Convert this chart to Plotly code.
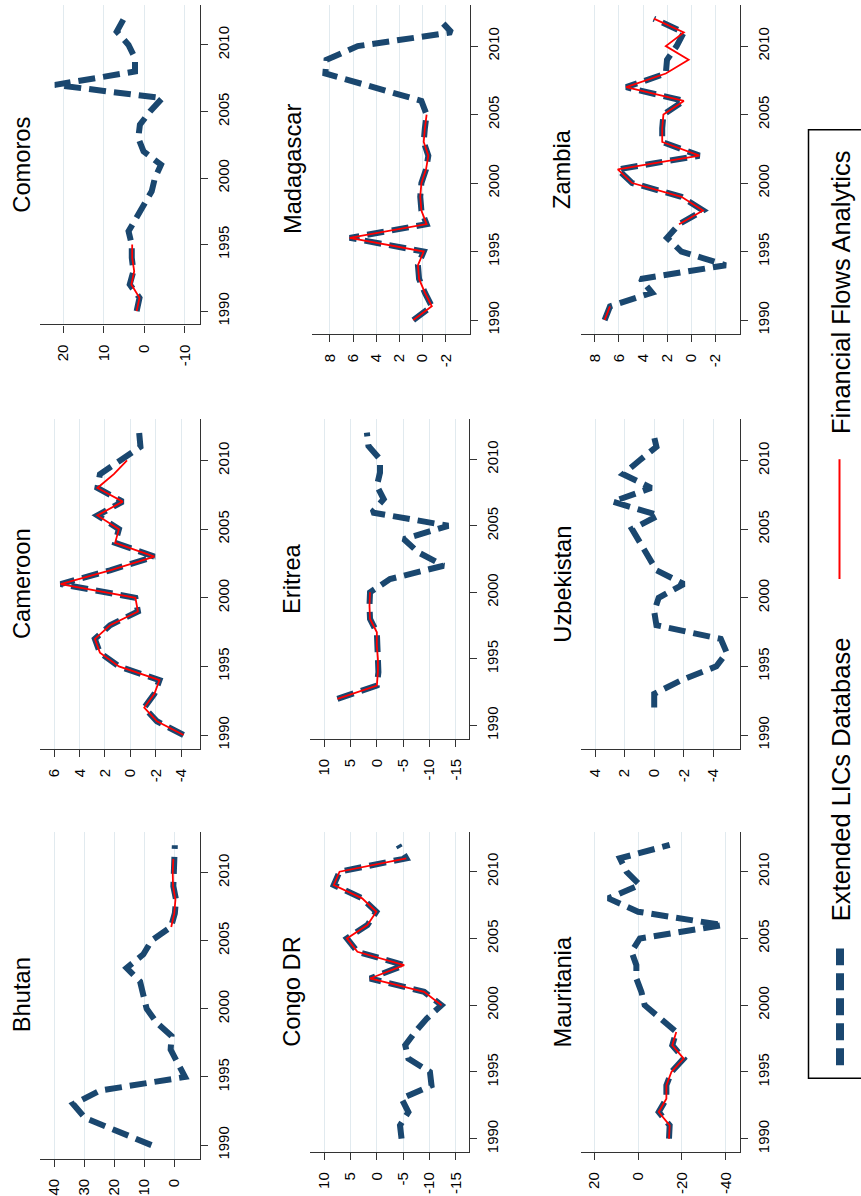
import plotly.graph_objects as go

W, H = 861, 1196
NAVY = "#1a476f"
RED = "#ff0000"
FONT = "Liberation Sans, Arial, Helvetica, sans-serif"

years = list(range(1990, 2013))

# Extended LICs Database (dashed) and Financial Flows Analytics (red), 1990-2012
comoros_ext = [1.9, 1.2, 3.6, 2.7, 3.1, 3.1, 3.9, 1.9, -0.2, -1.8, -2.6, -4.1,
               0.2, 1.5, 1.1, -1.4, -4.4, 22.0, 2.3, 2.3, 3.9, 6.8, 5.0]
comoros_ffa = [1.9, 1.2, 3.2, 2.5, 3.0, 3.0] + [None] * 17

cameroon_ext = [-4.2, -2.1, -1.1, -1.9, -2.3, 0.9, 2.4, 2.8, 1.6, -0.6, -0.4, 5.5,
                1.6, -1.9, 1.2, 0.9, 2.6, 0.6, 2.6, 2.4, 0.8, -0.8, -0.7]
cameroon_ffa = [-4.2, -2.1, -1.1, -1.9, -2.3, 0.9, 2.4, 2.8, 1.6, -0.6, -0.4, 5.5,
                1.6, -1.9, 1.2, 0.9, 2.6, 0.6, 2.6, 1.3, 0.26, None, None]

bhutan_ext = [7.6, 18.7, 29.8, 33.7, 24.8, -3.6, -1.3, 1.2, 0.9, 5.9, 9.2, 10.1,
              11.4, 15.9, 10.3, 7.6, 1.1, -0.2, -0.6, 0.3, 0.3, 0.1, -0.2]
bhutan_ffa = [None] * 16 + [1.0, 0.0, -0.4, 0.4, 0.5, 0.3, None]

madagascar_ext = [0.8, -0.8, -0.2, 0.3, 0.4, -0.1, 6.3, -0.35, 0.1, 0.2, 0.1, -0.3,
                  -0.5, -0.1, -0.2, -0.35, 0.1, 4.2, 8.4, 8.3, 5.6, -2.5, -1.4]
madagascar_ffa = [0.8, -0.8, -0.2, 0.3, 0.4, -0.1, 6.3, -0.35, 0.1, 0.2, 0.1, -0.3,
                  -0.5, -0.1, -0.2, -0.35] + [None] * 7

eritrea_ext = [None, None, 7.5, 0.0, -0.3, -0.3, -0.1, 0.0, 1.3, 1.4, 1.3, -2.5,
               -12.7, -7.9, -5.1, -13.6, 0.9, -1.3, 0.0, -0.6, -0.6, 1.6, 1.9]
eritrea_ffa = [None, None, 7.5, 0.0, -0.2, -0.2, 0.0, 0.0, 1.3, 1.4, 1.3] + [None] * 12

congo_ext = [-4.7, -4.4, -6.0, -4.7, -10.4, -10.1, -6.0, -5.4, -7.3, -9.5, -12.3, -9.0,
             1.3, -5.2, 3.7, 5.7, 1.8, 0.1, 2.8, 8.2, 7.1, -5.6, -4.1]
congo_ffa = [None] * 10 + [-12.3, -9.0, 1.3, -5.2, 3.7, 5.7, 1.8, 0.1, 2.8, 8.2,
                           7.1, -5.6, None]

zambia_ext = [7.2, 6.75, 3.25, 4.2, -2.9, 0.8, 2.0, 1.0, -1.0, 0.8, 4.9, 6.1,
              -0.7, 2.4, 2.4, 2.3, 0.6, 5.4, 2.1, 2.0, 1.2, 0.6, 3.1]
zambia_ffa = [7.2, 6.75, None, None, None, None, None, 1.0, -1.0, 0.8, 4.9, 6.1,
              -0.7, 2.4, 2.4, 2.3, 0.6, 5.4, 2.1, 0.2, 2.1, 0.6, 3.1]

uzbekistan_ext = [None, None, 0.0, 0.0, -1.85, -4.2, -4.9, -4.5, -0.15, 0.0, -0.3, -2.0,
                  -0.15, 0.4, 1.0, 1.5, -0.3, 2.8, 0.2, 2.1, 1.0, -0.15, 0.07]
uzbekistan_ffa = [None] * 23

mauritania_ext = [-14.1, -14.4, -9.4, -12.9, -12.9, -15.2, -20.8, -15.6, -17.4, -9.8,
                  -3.0, -1.5, 0.8, 0.8, 3.0, -0.8, -38.6, 0.0, 13.6, -0.8, 5.3, 8.3, -14.4]
mauritania_ffa = [-14.1, -14.4, -9.4, -12.9, -12.9, -15.2, -20.8, -15.6, -17.4] + [None] * 14

# value-axis ticks per country
comoros_ticks = [20, 10, 0, -10]
cameroon_ticks = [6, 4, 2, 0, -2, -4]
bhutan_ticks = [40, 30, 20, 10, 0]
madagascar_ticks = [8, 6, 4, 2, 0, -2]
eritrea_ticks = [10, 5, 0, -5, -10, -15]
congo_ticks = [10, 5, 0, -5, -10, -15]
zambia_ticks = [8, 6, 4, 2, 0, -2]
uzbekistan_ticks = [4, 2, 0, -2, -4]
mauritania_ticks = [20, 0, -20, -40]
year_ticks = [1990, 1995, 2000, 2005, 2010]

legend_labels = ["Extended LICs Database", "Financial Flows Analytics"]

# panel boxes in pixels: (left, right, top, bottom); value range shown left -> right
panels = [
    ("Comoros", comoros_ext, comoros_ffa, comoros_ticks, (40, 200, 5, 325), (25.7, -13.7)),
    ("Cameroon", cameroon_ext, cameroon_ffa, cameroon_ticks, (40, 200, 420, 750), (7.13, -5.5)),
    ("Bhutan", bhutan_ext, bhutan_ffa, bhutan_ticks, (40, 200, 833, 1160.7), (44.8, -8.6)),
    ("Madagascar", madagascar_ext, madagascar_ffa, madagascar_ticks, (311.7, 470, 5, 334.3), (9.58, -4.10)),
    ("Eritrea", eritrea_ext, eritrea_ffa, eritrea_ticks, (310, 469.3, 420, 740), (12.72, -17.59)),
    ("Congo DR", congo_ext, congo_ffa, congo_ticks, (310, 469.3, 833, 1154), (12.72, -17.59)),
    ("Zambia", zambia_ext, zambia_ffa, zambia_ticks, (580.7, 740, 5, 334.3), (9.19, -4.08)),
    ("Uzbekistan", uzbekistan_ext, uzbekistan_ffa, uzbekistan_ticks, (580.7, 740, 420, 750), (4.97, -5.80)),
    ("Mauritania", mauritania_ext, mauritania_ffa, mauritania_ticks, (580.7, 740, 833, 1154), (26.2, -46.5)),
]

AXIS_COLOR = "#333333"
GRID_COLOR = "#e1eaef"
TICK_FONT = dict(family=FONT, size=15, color="#000000")

fig = go.Figure()
layout_axes = {}
for i, (name, ext, ffa, ticks, box, vrange) in enumerate(panels, start=1):
    sfx = "" if i == 1 else str(i)
    xa, ya = "x" + sfx, "y" + sfx
    fig.add_trace(go.Scatter(
        x=ext, y=years, xaxis=xa, yaxis=ya, mode="lines", connectgaps=False,
        line=dict(color=NAVY, width=6, dash="17px,8px"),
        name=legend_labels[0], showlegend=False, hoverinfo="skip"))
    fig.add_trace(go.Scatter(
        x=ffa, y=years, xaxis=xa, yaxis=ya, mode="lines", connectgaps=False,
        line=dict(color=RED, width=1.8),
        name=legend_labels[1], showlegend=False, hoverinfo="skip"))
    l, r, t, b = box
    layout_axes["xaxis" + sfx] = dict(
        domain=[l / W, r / W], range=list(vrange), anchor=ya,
        tickvals=ticks, ticktext=[str(v) for v in ticks], tickangle=-90,
        showline=True, linecolor=AXIS_COLOR, linewidth=1.3,
        ticks="outside", ticklen=7, tickwidth=1.3, tickcolor=AXIS_COLOR,
        ticklabelstandoff=6,
        showgrid=True, gridcolor=GRID_COLOR, gridwidth=1.3, zeroline=False,
        tickfont=TICK_FONT, fixedrange=True)
    layout_axes["yaxis" + sfx] = dict(
        domain=[1 - b / H, 1 - t / H], range=[1989, 2013], anchor=xa, side="right",
        tickvals=year_ticks, ticktext=[str(v) for v in year_ticks], tickangle=-90,
        showline=True, linecolor=AXIS_COLOR, linewidth=1.3,
        ticks="outside", ticklen=7, tickwidth=1.3, tickcolor=AXIS_COLOR,
        ticklabelstandoff=3,
        showgrid=False, zeroline=False, tickfont=TICK_FONT, fixedrange=True)
    fig.add_annotation(
        text=name, xref="paper", yref="paper", x=(l - 18) / W, y=1 - (t + b) / 2 / H,
        xanchor="center", yanchor="middle", textangle=-90, showarrow=False,
        font=dict(family=FONT, size=23.7, color="#000000"))

# legend frame, keys and labels
shapes = [
    dict(type="rect", xref="paper", yref="paper", x0=808.5 / W, x1=880 / W,
         y0=1 - 1080 / H, y1=1 - 130 / H, line=dict(color="#000000", width=1.5),
         fillcolor="rgba(0,0,0,0)"),
    dict(type="line", xref="paper", yref="paper", x0=840 / W, x1=840 / W,
         y0=1 - 1067 / H, y1=1 - 950 / H, line=dict(color=NAVY, width=8, dash="17px,8px")),
    dict(type="line", xref="paper", yref="paper", x0=839.5 / W, x1=839.5 / W,
         y0=1 - 580 / H, y1=1 - 460 / H, line=dict(color=RED, width=2)),
]
fig.add_annotation(text=legend_labels[0], xref="paper", yref="paper",
                   x=841 / W, y=1 - 780.5 / H, xanchor="center", yanchor="middle",
                   textangle=-90, showarrow=False,
                   font=dict(family=FONT, size=25.5, color="#000000"))
fig.add_annotation(text=legend_labels[1], xref="paper", yref="paper",
                   x=841 / W, y=1 - 293.5 / H, xanchor="center", yanchor="middle",
                   textangle=-90, showarrow=False,
                   font=dict(family=FONT, size=25.5, color="#000000"))

fig.update_layout(
    width=W, height=H, margin=dict(l=0, r=0, t=0, b=0),
    paper_bgcolor="white", plot_bgcolor="white", showlegend=False,
    shapes=shapes, font=dict(family=FONT), **layout_axes)

fig.write_html("out.html")
